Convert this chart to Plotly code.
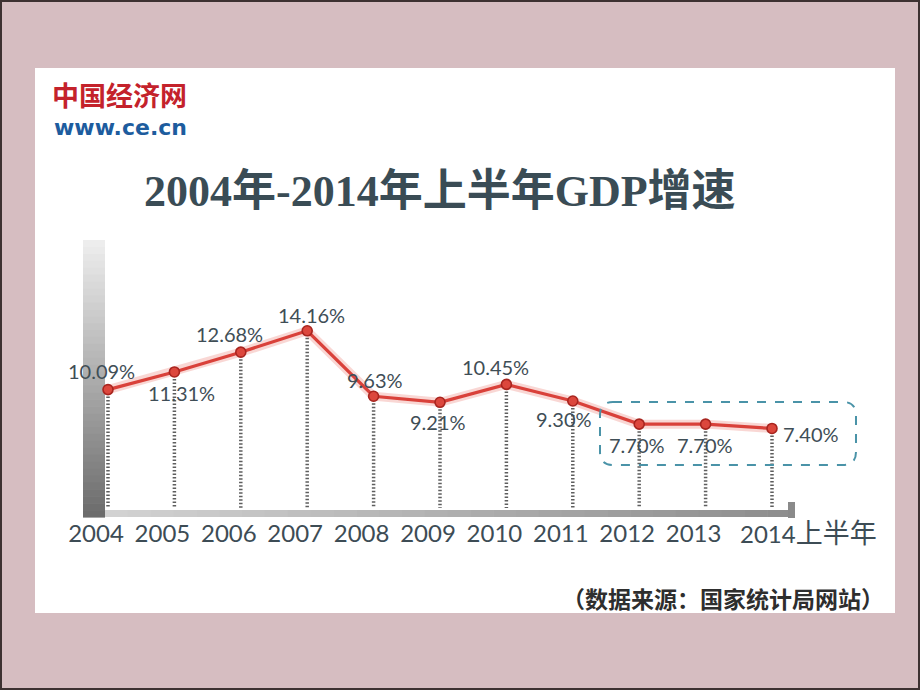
import plotly.graph_objects as go

# ---------------- data ----------------
years = ["2004", "2005", "2006", "2007", "2008", "2009", "2010", "2011", "2012", "2013", "2014上半年"]
growth = [10.09, 11.31, 12.68, 14.16, 9.63, 9.21, 10.45, 9.30, 7.70, 7.70, 7.40]
value_labels = ["10.09%", "11.31%", "12.68%", "14.16%", "9.63%", "9.21%",
                "10.45%", "9.30%", "7.70%", "7.70%", "7.40%"]
title_text = "2004年-2014年上半年GDP增速"
source_text = "（数据来源：国家统计局网站）"
logo_cn = "中国经济网"
logo_url = "www.ce.cn"

# ---------------- geometry helpers (styling) ----------------
W, H = 920, 690
MB = 177            # bottom margin -> plot area is top 513 px
PH = H - MB
Y_RANGE = [1.55, 37.05]
X_RANGE = [-1.6265, 12.229]


def px(x):
    return x / W


def py(y):
    return (PH - y) / PH


def yval(pix):
    return Y_RANGE[1] - pix / PH * (Y_RANGE[1] - Y_RANGE[0])


def lerp_hex(c1, c2, t):
    a = [int(c1[i:i + 2], 16) for i in (1, 3, 5)]
    b = [int(c2[i:i + 2], 16) for i in (1, 3, 5)]
    return "#" + "".join(f"{round(a[i] + (b[i] - a[i]) * t):02x}" for i in range(3))


TEXT_COL = "#3f4e56"
shapes = []

# white panel
shapes.append(dict(type="rect", xref="paper", yref="paper", layer="below",
                   x0=px(35), x1=px(895), y0=py(613), y1=py(68),
                   fillcolor="white", line=dict(width=0)))
# dark frame around slide
shapes.append(dict(type="rect", xref="paper", yref="paper", layer="below",
                   x0=px(1), x1=px(919), y0=py(689), y1=py(1),
                   fillcolor="rgba(0,0,0,0)", line=dict(color="#3d3131", width=2)))

# vertical gradient bar (left)
n = 40
top, bot = 240, 517
for i in range(n):
    y0 = top + (bot - top) * i / n
    y1 = top + (bot - top) * (i + 1) / n + 0.6
    shapes.append(dict(type="rect", xref="paper", yref="paper", layer="below",
                       x0=px(83), x1=px(105), y0=py(y1), y1=py(y0),
                       fillcolor=lerp_hex("#ededed", "#6c6c6c", i / (n - 1)),
                       line=dict(width=0)))
# horizontal axis bar
m = 30
xl, xr = 105, 790
for i in range(m):
    x0 = xl + (xr - xl) * i / m
    x1 = xl + (xr - xl) * (i + 1) / m + 0.6
    shapes.append(dict(type="rect", xref="paper", yref="paper", layer="below",
                       x0=px(x0), x1=px(x1), y0=py(517), y1=py(510),
                       fillcolor=lerp_hex("#d2d2d2", "#8e8e8e", i / (m - 1)),
                       line=dict(width=0)))
shapes.append(dict(type="rect", xref="paper", yref="paper", layer="below",
                   x0=px(788), x1=px(795), y0=py(518), y1=py(502),
                   fillcolor="#8a8a8a", line=dict(width=0)))

# dashed rounded box around last three points
bx0, bx1, by0, by1, r = 600, 856, 402, 465, 13
pts = [
    ("M", bx0 + r, by0), ("L", bx1 - r, by0), ("Q", bx1, by0, bx1, by0 + r),
    ("L", bx1, by1 - r), ("Q", bx1, by1, bx1 - r, by1), ("L", bx0 + r, by1),
    ("Q", bx0, by1, bx0, by1 - r), ("L", bx0, by0 + r), ("Q", bx0, by0, bx0 + r, by0)
]
path = ""
for p in pts:
    cmd = p[0]
    coords = p[1:]
    segs = []
    for j in range(0, len(coords), 2):
        segs.append(f"{px(coords[j]):.5f},{py(coords[j + 1]):.5f}")
    path += cmd + " ".join(segs) + " "
path += "Z"
shapes.append(dict(type="path", xref="paper", yref="paper", path=path,
                   line=dict(color="#4a93a8", width=2, dash="dash"),
                   fillcolor="rgba(0,0,0,0)"))

fig = go.Figure()

# dotted drop lines
drop_bottom = yval(508)
dx, dy = [], []
for yr, v in zip(years, growth):
    dx += [yr, yr, None]
    dy += [v, drop_bottom, None]
fig.add_trace(go.Scatter(x=dx, y=dy, mode="lines", hoverinfo="skip",
                         line=dict(color="#5e5e5e", width=3.5, dash="1.5px,2px"),
                         showlegend=False))
# glow
fig.add_trace(go.Scatter(x=years, y=growth, mode="lines", hoverinfo="skip",
                         line=dict(color="rgba(235,110,100,0.28)", width=9),
                         showlegend=False))
# main line
fig.add_trace(go.Scatter(x=years, y=growth, mode="lines+markers",
                         line=dict(color="#d9413a", width=3.2),
                         marker=dict(size=10, color="#dc473d",
                                     line=dict(color="#a8251f", width=1.6)),
                         showlegend=False))

annotations = []
offsets = [(-7, -19), (7, 21), (-11, -18), (4, -16), (1, -16), (-2, 20),
           (-11, -17), (-9, 18), (-2, 21), (-1, 21), (9, 6)]
for i, (v, lab) in enumerate(zip(growth, value_labels)):
    ox, oy = offsets[i]
    last = i == len(growth) - 1
    annotations.append(dict(x=i, y=v, xref="x", yref="y", text=lab, showarrow=False,
                            xanchor="left" if last else "center", yanchor="middle",
                            xshift=ox, yshift=-oy,
                            font=dict(family="Lato", size=20, color=TEXT_COL)))

# last tick label (wider, left aligned)
annotations.append(dict(x=len(years) - 1, y=py(532), xref="x", yref="paper",
                        text=years[-1][:4] + '<span style="font-size:27px">' + years[-1][4:] + "</span>",
                        showarrow=False, xanchor="left", yanchor="middle", xshift=-34,
                        font=dict(family="Lato, Noto Sans CJK SC", size=24, color="#3d4c55")))

# title
annotations.append(dict(x=px(440), y=py(191), xref="paper", yref="paper", text="<b>" + title_text + "</b>",
                        showarrow=False, xanchor="center", yanchor="middle",
                        font=dict(family="Liberation Serif, Noto Sans CJK SC", size=44, color="#3a4c55")))
# logo
annotations.append(dict(x=px(50), y=py(94), xref="paper", yref="paper", text="<b>" + logo_cn + "</b>",
                        showarrow=False, xanchor="left", yanchor="middle",
                        font=dict(family="Noto Sans CJK SC", size=27, color="#c4222b")))
annotations.append(dict(x=px(52), y=py(127), xref="paper", yref="paper", text="<b>" + logo_url + "</b>",
                        showarrow=False, xanchor="left", yanchor="middle",
                        font=dict(family="DejaVu Sans", size=22, color="#1d5c9e")))
# source
annotations.append(dict(x=px(886), y=py(598), xref="paper", yref="paper", text="<b>" + source_text + "</b>",
                        showarrow=False, xanchor="right", yanchor="middle",
                        font=dict(family="Noto Sans CJK SC", size=23, color="#2e2e2e")))

fig.update_layout(
    width=W, height=H,
    margin=dict(l=0, r=0, t=0, b=MB, pad=0),
    paper_bgcolor="#d6bdc1",
    plot_bgcolor="rgba(0,0,0,0)",
    shapes=shapes,
    annotations=annotations,
    showlegend=False,
    xaxis=dict(type="category", categoryorder="array", categoryarray=years,
               range=X_RANGE, showgrid=False, zeroline=False, showline=False,
               ticks="", tickvals=years[:-1], ticktext=years[:-1],
               ticklabelshift=-12, ticklabelstandoff=4,
               tickfont=dict(family="Lato", size=24, color="#3d4c55"),
               fixedrange=True),
    yaxis=dict(range=Y_RANGE, showgrid=False, zeroline=False, showline=False,
               showticklabels=False, ticks="", fixedrange=True),
)

fig.write_html("out.html", config={"displayModeBar": False},
               post_script="document.body.style.margin='0';document.body.style.overflow='hidden';")
